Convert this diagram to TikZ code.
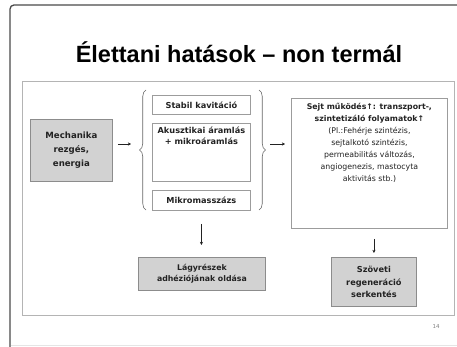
\documentclass[tikz,border=0pt]{standalone}
\usepackage{fontspec}
\setmainfont{DejaVu Sans}
\newfontfamily\titlefont{Liberation Sans}
\usetikzlibrary{decorations.pathreplacing,arrows.meta}
\definecolor{framecol}{HTML}{4A4A4A}
\definecolor{panelcol}{HTML}{B4B4B4}
\definecolor{boxfill}{HTML}{D2D2D2}
\definecolor{boxline}{HTML}{8C8C8C}
\definecolor{wline}{HTML}{9C9C9C}
\definecolor{txtcol}{HTML}{222222}
\begin{document}
\begin{tikzpicture}[x=1pt,y=-1pt,
  graybox/.style={draw=boxline, fill=boxfill, line width=0.8pt, inner sep=0pt, anchor=north west, align=center, text=txtcol,
    font=\bfseries\fontsize{8.6}{14}\selectfont},
  whitebox/.style={draw=wline, fill=white, line width=0.8pt, inner sep=0pt, anchor=north west, align=center, text=txtcol,
    font=\bfseries\fontsize{8.2}{10}\selectfont},
  inner/.style={inner sep=0pt, align=center, text=txtcol, anchor=north},
  arr/.style={-{Stealth[length=3.2pt,width=3.2pt]}, line width=0.7pt, draw=txtcol},
  brc/.style={decorate, decoration={brace, amplitude=6.5pt}, line width=0.6pt, draw=gray!80!black}
]
\useasboundingbox (0,0) rectangle (457,347);
% slide frame and panel
\draw[framecol, line width=1.3pt, rounded corners=4pt] (10,5) rectangle (475,365);
\draw[panelcol, line width=0.9pt] (22,81) rectangle (454,315);
\draw[gray!20, line width=0.6pt] (11,345) -- (457,345);
% title
\node[font=\titlefont\bfseries\fontsize{23.5}{26}\selectfont, anchor=base, text=black] (title) at (239,63) {Élettani hatások – non termál};
% left column
\node[graybox, minimum width=82pt, minimum height=62pt] (mech) at (30,119) {Mechanika\\rezgés,\\energia};
% middle column
\node[whitebox, minimum width=98pt, minimum height=19pt] (stabil) at (152,95) {Stabil kavitáció};
\node[whitebox, minimum width=98pt, minimum height=58pt] (akusz) at (152,123) {};
\node[inner, font=\bfseries\fontsize{8.2}{10.5}\selectfont] (akusztxt) at ([yshift=-4pt]akusz.north) {Akusztikai áramlás\\+ mikroáramlás};
\node[whitebox, minimum width=98pt, minimum height=20pt] (mikro) at (152,190) {Mikromasszázs};
% braces
\coordinate (lbbot) at (146,210);
\coordinate (lbtop) at (146,90);
\coordinate (rbtop) at (259,90);
\coordinate (rbbot) at (259,210);
\draw[brc] (lbbot) -- (lbtop);
\draw[brc] (rbtop) -- (rbbot);
\coordinate (lbin) at (138,144);
\coordinate (rbout) at (268,144);
% right column
\node[whitebox, minimum width=156pt, minimum height=130pt] (sejt) at (291,98) {};
\node[inner, font=\fontsize{7.8}{12}\selectfont] (sejttxt) at ([yshift=-5pt]sejt.north)
  {\textbf{Sejt működés↑: transzport-,}\\\textbf{szintetizáló folyamatok↑}\\(Pl.:Fehérje szintézis,\\sejtalkotó szintézis,\\permeabilitás változás,\\angiogenezis, mastocyta\\aktivitás stb.)};
% bottom boxes
\node[graybox, minimum width=127pt, minimum height=33pt, font=\bfseries\fontsize{7.8}{11.5}\selectfont] (lagy) at (138,257) {Lágyrészek\\adhéziójának oldása};
\node[graybox, minimum width=85pt, minimum height=49pt, font=\bfseries\fontsize{8.2}{12.5}\selectfont] (szov) at (331,257) {Szöveti\\regeneráció\\serkentés};
% connectors
\draw[arr, shorten <=5pt, shorten >=7pt] (mech.east |- lbin) -- (lbin);
\draw[arr, shorten <=2pt, shorten >=6pt] (rbout) -- (sejt.west |- rbout);
\draw[arr, shorten <=13pt, shorten >=12pt] (mikro.south) -- (mikro.south |- lagy.north);
\draw[arr, shorten <=10pt, shorten >=4pt] (szov.north |- sejt.south) -- (szov.north);
% page number
\node[font=\fontsize{5.5}{6}\selectfont, text=gray] (pg) at (436,326) {14};
\end{tikzpicture}
\end{document}
